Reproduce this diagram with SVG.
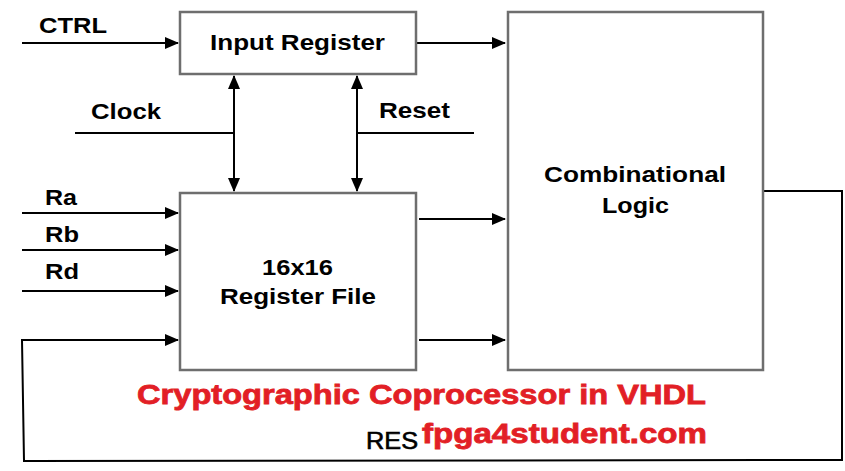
<svg xmlns="http://www.w3.org/2000/svg" width="845" height="471" viewBox="0 0 845 471">
<style>
.box{fill:#fff;stroke:#6e6e6e;stroke-width:2.5}
.ln{fill:none;stroke:#000;stroke-width:2}
.t{font-family:"Liberation Sans",Arial,sans-serif;font-weight:bold;font-size:22px;fill:#000}
.c{text-anchor:middle}
.red{font-family:"Liberation Sans",Arial,sans-serif;font-weight:bold;fill:#e21f26;stroke:#e21f26;stroke-width:0.8}
</style>
<defs>
<marker id="ah" markerWidth="14" markerHeight="12" refX="13" refY="6" orient="auto-start-reverse" markerUnits="userSpaceOnUse">
<path d="M0,0 L14,6 L0,12 Z" fill="#000"/>
</marker>
</defs>
<rect width="845" height="471" fill="#fff"/>
<g id="connectors">
<line class="ln" x1="22" y1="43" x2="178" y2="43" marker-end="url(#ah)"/>
<line class="ln" x1="417" y1="43" x2="505" y2="43" marker-end="url(#ah)"/>
<line class="ln" x1="75" y1="133" x2="234" y2="133"/>
<line class="ln" x1="234" y1="76" x2="234" y2="191" marker-start="url(#ah)" marker-end="url(#ah)"/>
<line class="ln" x1="357" y1="133" x2="474" y2="133"/>
<line class="ln" x1="357" y1="76" x2="357" y2="191" marker-start="url(#ah)" marker-end="url(#ah)"/>
<line class="ln" x1="22" y1="213" x2="178" y2="213" marker-end="url(#ah)"/>
<line class="ln" x1="22" y1="250" x2="178" y2="250" marker-end="url(#ah)"/>
<line class="ln" x1="22" y1="291" x2="178" y2="291" marker-end="url(#ah)"/>
<polyline class="ln" points="764,191 842,191 842,460 24,461 22,340 178,340" marker-end="url(#ah)"/>
<line class="ln" x1="419" y1="219" x2="505" y2="219" marker-end="url(#ah)"/>
<line class="ln" x1="419" y1="340" x2="505" y2="340" marker-end="url(#ah)"/>
</g>
<g id="input-register">
<rect class="box" x="180" y="12" width="236" height="62"/>
<text class="t" x="210" y="50" textLength="175" lengthAdjust="spacingAndGlyphs">Input Register</text>
</g>
<g id="register-file">
<rect class="box" x="180" y="193" width="236" height="177"/>
<text class="t" x="262" y="275" textLength="71" lengthAdjust="spacingAndGlyphs">16x16</text>
<text class="t" x="220" y="304" textLength="156" lengthAdjust="spacingAndGlyphs">Register File</text>
</g>
<g id="combinational-logic">
<rect class="box" x="508" y="12" width="255" height="358"/>
<text class="t" x="544" y="182" textLength="182" lengthAdjust="spacingAndGlyphs">Combinational</text>
<text class="t" x="602" y="213" textLength="67" lengthAdjust="spacingAndGlyphs">Logic</text>
</g>
<g id="labels">
<text class="t" x="39" y="33" textLength="68" lengthAdjust="spacingAndGlyphs">CTRL</text>
<text class="t" x="91" y="119" textLength="70" lengthAdjust="spacingAndGlyphs">Clock</text>
<text class="t" x="379" y="118" textLength="71" lengthAdjust="spacingAndGlyphs">Reset</text>
<text class="t" x="45" y="205" textLength="32" lengthAdjust="spacingAndGlyphs">Ra</text>
<text class="t" x="45" y="242" textLength="34" lengthAdjust="spacingAndGlyphs">Rb</text>
<text class="t" x="45" y="279" textLength="34" lengthAdjust="spacingAndGlyphs">Rd</text>
<text class="t" x="366" y="449" style="font-weight:normal;font-size:23px;stroke:#000;stroke-width:0.6" textLength="52" lengthAdjust="spacingAndGlyphs">RES</text>
<text class="red" x="137" y="404" font-size="27" textLength="569" lengthAdjust="spacingAndGlyphs">Cryptographic Coprocessor in VHDL</text>
<text class="red" x="422" y="443" font-size="27" textLength="285" lengthAdjust="spacingAndGlyphs">fpga4student.com</text>
</g>
</svg>
